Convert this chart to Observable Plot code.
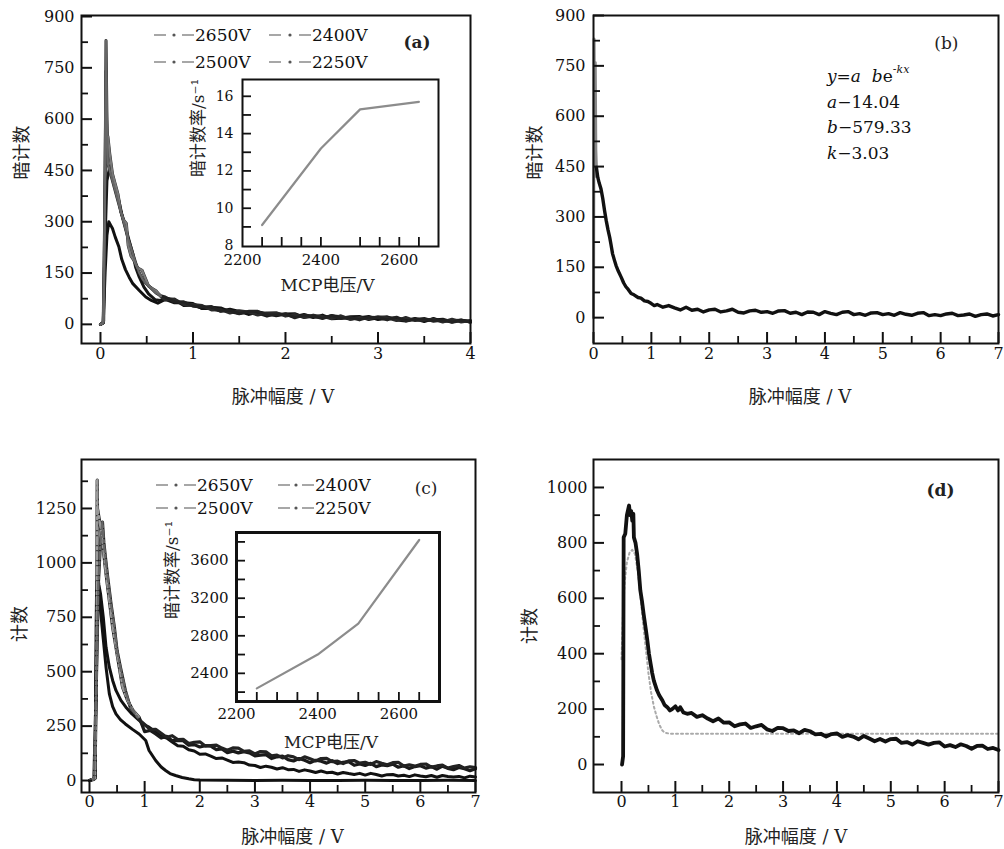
<!DOCTYPE html>
<html><head><meta charset="utf-8">
<script src="https://cdn.jsdelivr.net/npm/d3@7"></script>
<script src="https://cdn.jsdelivr.net/npm/@observablehq/plot@0.6"></script>
<style>
body{margin:0;background:#fff;}
#fig{position:relative;width:1004px;height:849px;overflow:hidden;background:#fff;}
.leg{position:absolute;font:17px "DejaVu Serif",serif;color:#111;white-space:nowrap;line-height:20px;height:20px;display:flex;align-items:center;}
.eq{position:absolute;font:17px "DejaVu Serif",serif;color:#111;line-height:25.5px;white-space:pre;}
.eq i{font-style:italic;}
.eq sup{font-size:11px;vertical-align:9px;line-height:0;}
</style></head><body><div id="fig"></div><script>
// ---------- data ----------
const volts = ["2650V","2500V","2400V","2250V"];
const gridX = [1.0,1.1,1.2,1.3,1.4,1.5,1.6,1.7,1.8,1.9,2.0,2.1,2.2,2.3,2.4,2.5,2.6,2.7,2.8,2.9,3.0,3.1,3.2,3.3,3.4,3.5,3.6,3.7,3.8,3.9,4.0,4.1,4.2,4.3,4.4,4.5,4.6,4.7,4.8,4.9,5.0,5.1,5.2,5.3,5.4,5.5,5.6,5.7,5.8,5.9,6.0,6.1,6.2,6.3,6.4,6.5,6.6,6.7,6.8,6.9,7.0];
const preX = [0.7,0.8,0.9];

// (a) dark counts vs pulse amplitude
const aHead2650 = [[0,0],[0.02,2],[0.035,10],[0.05,420],[0.06,830],[0.07,600],[0.08,470],[0.1,450],[0.12,430],[0.15,400],[0.18,370],[0.2,350],[0.23,320],[0.26,290],[0.3,250],[0.34,215],[0.38,180],[0.42,150],[0.46,130],[0.5,118],[0.55,105],[0.6,92],[0.65,84]];
const aHead2500 = [[0,0],[0.03,5],[0.045,300],[0.06,740],[0.07,520],[0.08,550],[0.1,500],[0.13,440],[0.16,410],[0.19,380],[0.22,330],[0.25,305],[0.28,295],[0.3,230],[0.33,200],[0.36,188],[0.4,165],[0.45,158],[0.48,138],[0.52,112],[0.56,105],[0.6,98],[0.65,82]];
const aHead2400 = [[0,0],[0.03,5],[0.05,250],[0.07,420],[0.1,460],[0.13,430],[0.16,400],[0.2,360],[0.23,323],[0.27,284],[0.31,245],[0.35,206],[0.38,167],[0.42,138],[0.47,109],[0.52,89],[0.59,72],[0.65,70]];
const aHead2250 = [[0,0],[0.03,4],[0.05,150],[0.07,260],[0.09,300],[0.11,290],[0.13,280],[0.16,255],[0.2,226],[0.23,190],[0.27,160],[0.31,138],[0.35,119],[0.42,99],[0.49,80],[0.55,70],[0.62,62]];
const aTail2650 = [80,65,66,53,51,52,38,41,31,38,38,27,27,31,19,27,24,17,26,17,20,13,21,20,13,21,10,14,17,9,13,6,11,9];
const aTail2500 = [71,74,58,58,55,42,43,33,40,36,27,33,34,24,29,20,27,22,17,25,15,20,16,22,19,11,20,11,13,15,7,15,7,11];
const aTail2400 = [77,72,55,56,47,50,48,37,32,37,33,24,32,28,22,29,20,27,16,18,22,23,14,19,22,13,10,17,11,13,15,7,13,6];
const aTail2250 = [73,63,63,61,46,46,39,44,38,29,36,32,25,30,31,21,23,19,25,22,15,19,23,14,18,19,13,16,8,17,8,11,12,7];
// inset (a): dark count rate vs MCP voltage
const insetAV = [2250,2400,2500,2650];
const insetARate = [9.1,13.2,15.3,15.7];

// (b) single dark-count curve
const bHead = [[0,0],[0.01,830],[0.02,420],[0.03,760],[0.04,500],[0.05,447]];
const bBody = [[0.05,447],[0.075,417],[0.1,400],[0.13,383],[0.16,355],[0.19,320],[0.22,289],[0.25,262],[0.28,239],[0.3,220],[0.33,190],[0.36,172],[0.39,155],[0.43,138],[0.48,120],[0.52,104],[0.56,92],[0.6,84],[0.65,72],[0.7,68],[0.77,60],[0.82,58],[0.88,50],[0.94,48],[1.0,42],[1.05,36]];
const bTail = [39,31,36,29,23,31,22,25,17,23, 25,17,20,25,16,14,20,22,16,18, 13,20,21,13,16,9,17,16,9,18, 13,9,16,18,9,12,7,14,15,9, 12,7,15,10,7,13,15,6,9,6, 11,13,6,8,11,4,9,11,5,9];
const fitLabels = ["a\u221214.04","b\u2212579.33","k\u22123.03"];

// (c) counts vs pulse amplitude
const cHead2650 = [[0,0],[0.08,5],[0.12,400],[0.16,900],[0.2,1100],[0.235,1187],[0.26,1094],[0.3,1000],[0.33,934],[0.39,812],[0.45,706],[0.5,597],[0.56,521],[0.65,414],[0.74,337],[0.83,306],[0.9,280]];
const cHead2500 = [[0,0],[0.1,10],[0.13,600],[0.14,1380],[0.145,1250],[0.2,1164],[0.25,1060],[0.3,950],[0.36,827],[0.42,704],[0.48,612],[0.54,521],[0.6,429],[0.69,368],[0.79,322],[0.9,290]];
const cHead2400 = [[0,0],[0.1,10],[0.13,700],[0.145,950],[0.17,900],[0.2,858],[0.25,751],[0.3,612],[0.36,521],[0.42,460],[0.48,414],[0.57,368],[0.66,337],[0.77,306],[0.9,276],[1.0,255],[1.08,245]];
const c2250 = [[0,0],[0.1,10],[0.12,700],[0.13,910],[0.16,870],[0.2,780],[0.25,650],[0.3,520],[0.36,398],[0.42,340],[0.48,306],[0.56,280],[0.65,260],[0.78,235],[0.9,214],[1.02,184],[1.08,138],[1.2,92],[1.3,62],[1.38,46],[1.46,32],[1.56,23],[1.68,14],[1.8,8],[1.9,4],[2.0,2],[2.5,1],[3,0],[3.5,1],[4,0],[4.5,0],[5,1],[5.5,0],[6,0],[6.5,1],[7,0]];
const cTail2650 = [258,234,235,217,199,206,188,189,170,176, 178,159,161,163,149,139,150,149,134,136, 122,133,132,114,117,104,114,109,96,109, 100,90,101,102,87,89,78,90,92,80, 84,74,87,79,72,82,84,66,72,66, 74,76,62,67,71,57,64,69,57,63,59];
const cTail2500 = [225,230,214,195,203,183,184,183,162,165, 154,160,158,142,145,128,135,127,133,127, 113,116,119,101,109,112,96,90,101,93, 82,93,89,80,91,78,84,87,70,76, 69,79,64,72,68,75,61,68,55,64, 68,57,64,52,66,56,50,60,54,45,54];
const cTail2400 = [223,203,195,177,160,158,141,136,121,122, 112,101,104,94,83,85,82,71,69,60, 66,61,53,59,50,51,42,49,44,37, 44,36,38,30,37,32,28,33,25,33, 28,21,27,28,21,24,18,26,21,17, 23,15,23,19,16,19,12,20,16];
// inset (c): count rate vs MCP voltage
const insetCV = [2250,2400,2500,2650];
const insetCRate = [2240,2600,2930,3820];

// (d) counts and fitted curve
const dHead = [[0.01,0],[0.03,30],[0.04,820],[0.07,833],[0.1,900],[0.14,935],[0.16,900],[0.18,915],[0.2,880],[0.22,905],[0.23,820],[0.26,800],[0.29,760],[0.32,700],[0.35,628],[0.38,590],[0.41,544],[0.45,490],[0.48,448],[0.51,400],[0.54,364],[0.57,330],[0.6,303],[0.63,285],[0.66,267],[0.7,250],[0.76,231],[0.8,215],[0.85,207],[0.9,195],[0.94,200],[1.0,210],[1.05,195],[1.09,207],[1.15,188],[1.22,183]];
const dTail = [186,172,178,166,156,166,151,152,138,145, 148,132,138,143,127,121,132,131,121,123, 113,125,120,109,111,101,110,112,100,106, 101,91,103,94,84,92,83,92,93,78, 81,72,84,78,72,78,80,65,70,63, 73,67,57,67,68,56,60,52];
const dFit = [[0.0,380],[0.03,560],[0.06,660],[0.1,730],[0.15,765],[0.2,775],[0.25,760],[0.3,700],[0.35,610],[0.4,510],[0.45,420],[0.5,330],[0.55,260],[0.6,210],[0.65,175],[0.7,145],[0.75,125],[0.8,115],[0.9,111],[1.5,111],[2,111],[3,111],[4,111],[5,111],[6,111],[7,111]];

// ticks
const ticksA = {xMajor:[0,1,2,3,4], xMinor:[0.5,1.5,2.5,3.5], yMajor:[0,150,300,450,600,750,900], yMinor:[75,225,375,525,675,825]};
const ticksB = {xMajor:[0,1,2,3,4,5,6,7], xMinor:[0.5,1.5,2.5,3.5,4.5,5.5,6.5], yMajor:[0,150,300,450,600,750,900], yMinor:[75,225,375,525,675,825]};
const ticksC = {xMajor:[0,1,2,3,4,5,6,7], xMinor:[0.5,1.5,2.5,3.5,4.5,5.5,6.5], yMajor:[0,250,500,750,1000,1250], yMinor:[125,375,625,875,1125,1375]};
const ticksD = {xMajor:[0,1,2,3,4,5,6,7], xMinor:[0.5,1.5,2.5,3.5,4.5,5.5,6.5], yMajor:[0,200,400,600,800,1000], yMinor:[100,300,500,700,900]};
const insetXLabels = [2200,2400,2600];
const insetXTicks = [2250,2300,2350,2400,2500,2550,2600,2650];

// ---------- helpers ----------
const SERIF = "DejaVu Serif, Liberation Serif, serif";
const TFONT = "DejaVu Serif, Noto Sans CJK SC, sans-serif";
const fig = document.getElementById("fig");
const join = (head, xs, ys) => head.concat(ys.map((y, i) => [xs[i], y]));
const pairs = (xs, ys) => xs.map((x, i) => [x, ys[i]]);
function place(el, left, top) {
  el.style.position = "absolute"; el.style.left = left + "px"; el.style.top = top + "px";
  fig.appendChild(el);
}
// inward tick marks on the bottom / left edges of the frame
function inTicks(xs, ys, fw, fh, len, sw) {
  return [
    Plot.tickX(xs, {x: d => d, insetTop: fh - len, stroke: "#111", strokeWidth: sw}),
    Plot.tickY(ys, {y: d => d, insetRight: fw - len, stroke: "#111", strokeWidth: sw})
  ];
}

function mainPanel(o) {
  const t = o.ticks, m = o.m;
  const fw = o.w - m[1] - m[3], fh = o.h - m[0] - m[2];
  const marks = [
    Plot.axisX({ticks: t.xMajor, tickSize: 0, tickPadding: o.xPad, tickFormat: d => String(d), label: null, fontSize: 16, fontFamily: SERIF}),
    Plot.axisY({ticks: t.yMajor, tickSize: 0, tickPadding: o.yPad, tickFormat: d => String(d), label: null, fontSize: 16, fontFamily: SERIF})
  ];
  for (const s of o.series) {
    marks.push(Plot.line(s.data, {x: d => d[0], y: d => d[1], stroke: s.color, strokeWidth: s.width, strokeDasharray: s.dash, strokeLinejoin: "round", strokeLinecap: "round"}));
  }
  marks.push(Plot.frame({stroke: "#111", strokeWidth: 2}));
  marks.push(...inTicks(t.xMajor, t.yMajor, fw, fh, 11, 2), ...inTicks(t.xMinor, t.yMinor, fw, fh, 7, 1.8));
  marks.push(Plot.text([o.xTitle], {frameAnchor: "bottom", dx: o.xt[0], dy: o.xt[1], fontSize: 18, fontFamily: TFONT, lineAnchor: "middle", fill: "#222"}));
  marks.push(Plot.text([o.yTitle], {frameAnchor: "left", rotate: -90, dx: o.yt[0], dy: o.yt[1], fontSize: 18, fontFamily: TFONT, lineAnchor: "middle", fill: "#222"}));
  marks.push(Plot.text([o.tag], {frameAnchor: "top-right", dx: o.tg[0], dy: o.tg[1], fontSize: 17, fontFamily: SERIF, fontWeight: o.tagBold ? "bold" : "normal", lineAnchor: "middle", fill: "#222"}));
  return Plot.plot({
    width: o.w, height: o.h, marginTop: m[0], marginRight: m[1], marginBottom: m[2], marginLeft: m[3],
    x: {domain: o.xDomain}, y: {domain: o.yDomain},
    style: {background: "transparent", overflow: "visible", fontFamily: SERIF, color: "#111"},
    marks
  });
}

function insetPanel(o) {
  const m = o.m;
  const fw = o.w - m[1] - m[3], fh = o.h - m[0] - m[2];
  const marks = [
    Plot.axisX({ticks: insetXLabels, tickSize: 0, tickPadding: o.xPad, tickFormat: d => String(d), label: null, fontSize: 15, fontFamily: SERIF}),
    Plot.axisY({ticks: o.yLabels, tickSize: 0, tickPadding: o.yPad, tickFormat: d => String(d), label: null, fontSize: o.yFont, fontFamily: SERIF}),
    Plot.line(pairs(o.xs, o.ys), {x: d => d[0], y: d => d[1], stroke: "#8c8c8c", strokeWidth: 2.2}),
    Plot.frame({stroke: "#111", strokeWidth: o.frameW}),
    ...inTicks(insetXTicks, o.yTicks, fw, fh, 9, 1.8),
    Plot.text([o.xTitle], {frameAnchor: "bottom", dx: o.xt[0], dy: o.xt[1], fontSize: 17, fontFamily: TFONT, lineAnchor: "middle", fill: "#222"}),
    Plot.text([o.yTitle], {frameAnchor: "left", rotate: -90, dx: o.yt[0], dy: o.yt[1], fontSize: 17, fontFamily: TFONT, lineAnchor: "middle", fill: "#222"})
  ];
  return Plot.plot({
    width: o.w, height: o.h, marginTop: m[0], marginRight: m[1], marginBottom: m[2], marginLeft: m[3],
    x: {domain: [2200, 2700]}, y: {domain: o.yDomain},
    style: {background: "transparent", overflow: "visible", fontFamily: SERIF, color: "#111"},
    marks
  });
}

function legend(items, top, rowGap, colX, textX) {
  items.forEach((name, i) => {
    const row = Math.floor(i / 2), col = i % 2;
    const w = textX[col] - colX[col];
    const d = document.createElement("div");
    d.className = "leg";
    d.innerHTML = `<svg width="${w}" height="10"><path d="M1,5H13M${w - 13},5H${w - 1}" stroke="#8a8a8a" stroke-width="1.6"/><circle cx="${w / 2}" cy="5" r="1.6" fill="#555"/></svg><span>${name}</span>`;
    place(d, colX[col], top + row * rowGap);
  });
}

const xTitle = "脉冲幅度 / V";

// ---------- panel (a) ----------
const tailXa = preX.concat(gridX.slice(0, 31));
place(mainPanel({
  w: 500, h: 420, m: [15, 30, 77, 81], xDomain: [-0.205, 4], yDomain: [-56, 903], ticks: ticksA, xPad: 4, yPad: 7,
  series: [
    {data: join(aHead2250, tailXa, aTail2250), color: "#111", width: 3},
    {data: join(aHead2400, tailXa, aTail2400), color: "#151515", width: 3},
    {data: join(aHead2500, tailXa, aTail2500), color: "#2a2a2a", width: 3},
    {data: join(aHead2650, tailXa, aTail2650), color: "#222", width: 3},
    {data: aHead2500, color: "#7a7a7a", width: 2.2},
    {data: aHead2650, color: "#666", width: 2.2}
  ],
  xTitle, yTitle: "暗计数", xt: [7, 54], yt: [-59, 0], tag: "(a)", tg: [-40, 27], tagBold: true
}), 0, 0);

// ---------- panel (b) ----------
place(mainPanel({
  w: 504, h: 420, m: [15, 6, 77, 93], xDomain: [0, 7], yDomain: [-77, 900], ticks: ticksB, xPad: 4, yPad: 8,
  series: [
    {data: bHead, color: "#888", width: 3},
    {data: join(bBody, gridX.slice(1), bTail), color: "#111", width: 3.4}
  ],
  xTitle, yTitle: "暗计数", xt: [4, 54], yt: [-58, 0], tag: "(b)", tg: [-40, 28], tagBold: false
}), 500, 0);

// ---------- panel (c) ----------
place(mainPanel({
  w: 500, h: 419, m: [29, 25, 57, 81], xDomain: [-0.145, 7], yDomain: [-55, 1475], ticks: ticksC, xPad: 3, yPad: 5,
  series: [
    {data: c2250, color: "#111", width: 3},
    {data: join(cHead2400, gridX.slice(2), cTail2400), color: "#111", width: 3},
    {data: join(cHead2500, gridX, cTail2500), color: "#1a1a1a", width: 3.2},
    {data: join(cHead2650, gridX, cTail2650), color: "#222", width: 3.2},
    {data: cHead2500, color: "#9a9a9a", width: 2.4, dash: "7,3,2,3"},
    {data: cHead2650, color: "#666", width: 2.4, dash: "7,3,2,3"}
  ],
  xTitle, yTitle: "计数", xt: [14, 45], yt: [-61, 16], tag: "(c)", tg: [-38, 29], tagBold: false
}), 0, 430);

// ---------- panel (d) ----------
place(mainPanel({
  w: 504, h: 419, m: [29, 6, 57, 93], xDomain: [-0.52, 7], yDomain: [-101, 1101], ticks: ticksD, xPad: 3, yPad: 6,
  series: [
    {data: dFit, color: "#aaa", width: 2, dash: "2,3"},
    {data: join(dHead, gridX.slice(3), dTail), color: "#111", width: 3.8}
  ],
  xTitle, yTitle: "计数", xt: [0, 45], yt: [-63, 18], tag: "(d)", tg: [-44, 31], tagBold: true
}), 500, 430);

// ---------- insets ----------
place(insetPanel({
  w: 270, h: 230, m: [9, 12, 54, 62], yDomain: [7.95, 16.9], xs: insetAV, ys: insetARate,
  yTicks: [9, 10, 11, 12, 13, 14, 15, 16], yLabels: [8, 10, 12, 14, 16], xPad: 8, yPad: 9, yFont: 14, frameW: 2,
  xTitle: "MCP电压/V", yTitle: "暗计数率/s⁻¹", xt: [-13, 39], yt: [-44, 14]
}), 180, 70);

place(insetPanel({
  w: 270, h: 230, m: [12, 11, 49, 56], yDomain: [2100, 3900], xs: insetCV, ys: insetCRate,
  yTicks: [2200, 2400, 2600, 2800, 3000, 3200, 3400, 3600, 3800], yLabels: [2400, 2800, 3200, 3600], xPad: 7, yPad: 8, yFont: 15, frameW: 3,
  xTitle: "MCP电压/V", yTitle: "暗计数率/s⁻¹", xt: [-7, 41], yt: [-64, 2]
}), 180, 520);

// ---------- legends ----------
legend([volts[0], volts[2], volts[1], volts[3]], 25, 27, [153, 268], [195, 312]);
legend([volts[0], volts[2], volts[1], volts[3]], 475, 23, [155, 277], [197, 315]);

// ---------- fit text in (b) ----------
const eq = document.createElement("div");
eq.className = "eq";
eq.innerHTML = `<i>y</i>=<i>a</i>  <i>b</i>e<sup>-<i>kx</i></sup>\n` + fitLabels.map(s => `<i>${s[0]}</i>${s.slice(1)}`).join("\n");
place(eq, 827, 64);
</script></body></html>
